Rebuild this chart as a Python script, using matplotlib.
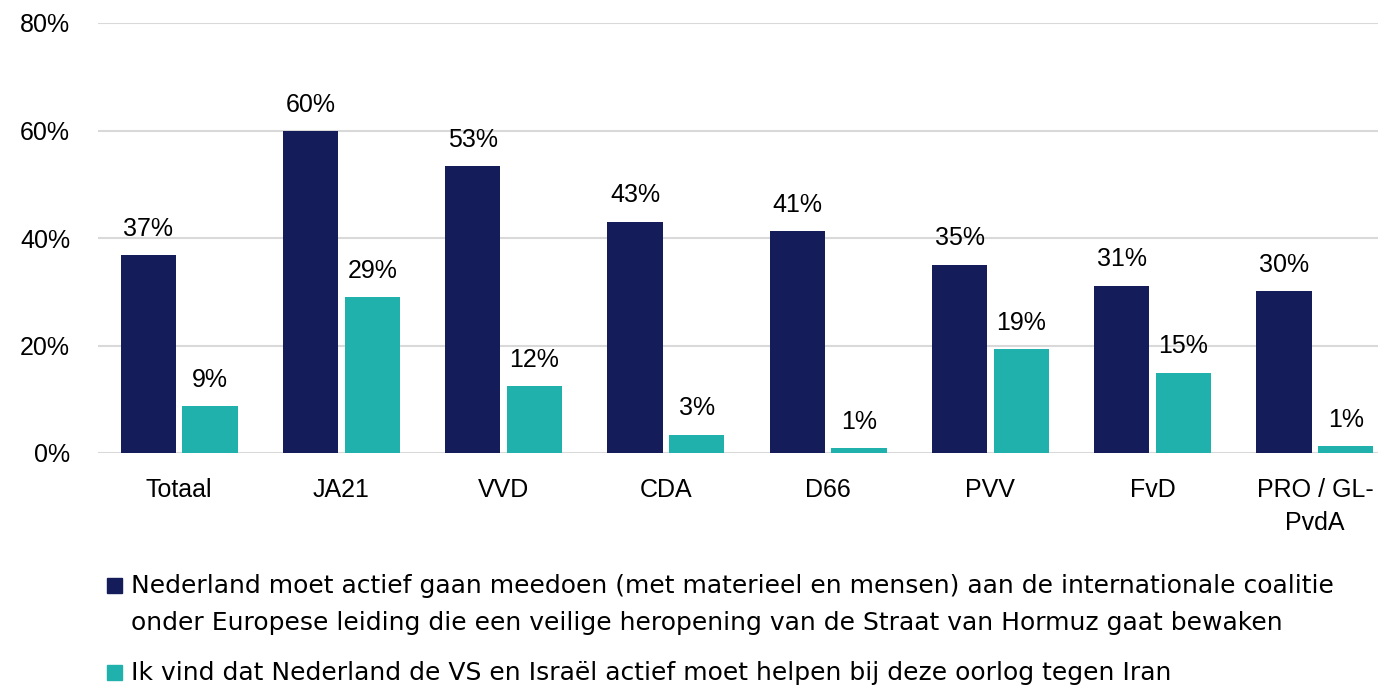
import numpy as np
import matplotlib.pyplot as plt
from matplotlib.patches import Rectangle

# ---------- Data ----------
partijen = ['Totaal', 'JA21', 'VVD', 'CDA', 'D66', 'PVV', 'FvD', 'PRO / GL-\nPvdA']
meedoen = [36.8, 59.9, 53.4, 43.0, 41.3, 35.0, 31.1, 30.1]
helpen = [8.7, 29.0, 12.4, 3.4, 0.9, 19.3, 14.9, 1.3]
labels_meedoen = ['37%', '60%', '53%', '43%', '41%', '35%', '31%', '30%']
labels_helpen = ['9%', '29%', '12%', '3%', '1%', '19%', '15%', '1%']
yticks = [0, 20, 40, 60, 80]

legend_1 = ['Nederland moet actief gaan meedoen (met materieel en mensen) aan de internationale coalitie',
            'onder Europese leiding die een veilige heropening van de Straat van Hormuz gaat bewaken']
legend_2 = 'Ik vind dat Nederland de VS en Israël actief moet helpen bij deze oorlog tegen Iran'

navy = '#141C5A'
teal = '#20B1AD'
grid = '#D9D9D9'

plt.rcParams['font.family'] = ['Liberation Sans', 'DejaVu Sans']

W, H = 1378, 685
fig = plt.figure(figsize=(W / 100, H / 100), dpi=100)
ax = fig.add_axes([98 / W, 1 - 453 / H, (1396 - 98) / W, (453 - 23) / H])

x = np.arange(len(partijen))
bw = 0.34
off = 0.19
ax.bar(x - off, meedoen, bw, color=navy, zorder=3)
ax.bar(x + off, helpen, bw, color=teal, zorder=3)

for xi, v, t in zip(x, meedoen, labels_meedoen):
    ax.annotate(t, (xi - off, v), xytext=(0, 14), textcoords='offset points',
                ha='center', va='baseline', fontsize=18)
for xi, v, t in zip(x, helpen, labels_helpen):
    ax.annotate(t, (xi + off, v), xytext=(0, 14), textcoords='offset points',
                ha='center', va='baseline', fontsize=18)

ax.set_xlim(-0.5, len(partijen) - 0.5)
ax.set_ylim(0, 80)
ax.set_yticks(yticks)
ax.set_yticklabels([f'{t}%' for t in yticks], fontsize=18)
ax.set_xticks(x)
ax.set_xticklabels(partijen, fontsize=18, linespacing=1.45)
ax.tick_params(axis='y', length=0, pad=20)
ax.tick_params(axis='x', length=0, pad=18)
ax.yaxis.grid(True, color=grid, linewidth=1.5, zorder=0)
for s in ax.spines.values():
    s.set_visible(False)

# ---------- Legend ----------
lfont = ['DejaVu Sans']
fig.patches.append(Rectangle((107 / W, 1 - 593 / H), 15 / W, 15 / H,
                             transform=fig.transFigure, color=navy))
for i, line in enumerate(legend_1):
    fig.text(131 / W, 1 - (593 + 37 * i) / H, line, family=lfont, fontsize=18,
             va='baseline', ha='left')
fig.patches.append(Rectangle((107 / W, 1 - 680 / H), 15 / W, 15 / H,
                             transform=fig.transFigure, color=teal))
fig.text(131 / W, 1 - 680 / H, legend_2, family=lfont, fontsize=18,
         va='baseline', ha='left')

fig.savefig('out.png', dpi=100)
